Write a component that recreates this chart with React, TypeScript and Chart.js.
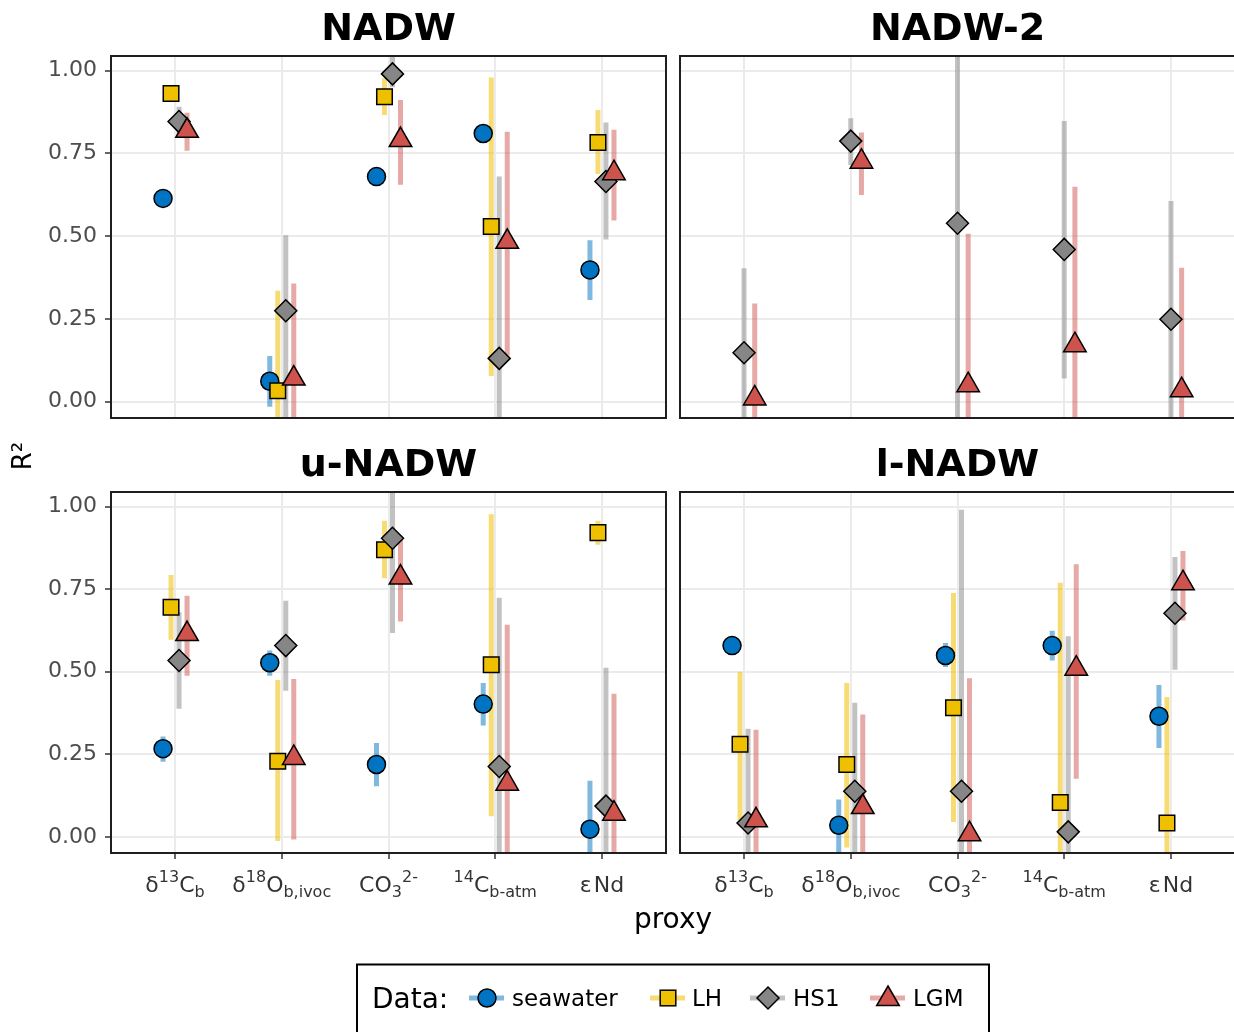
import React, { useEffect, useRef } from 'react';
import { Chart, registerables } from 'chart.js';

Chart.register(...registerables);
Chart.defaults.font.family = '"DejaVu Sans", sans-serif';

// ---------- categories & tick labels ----------
const categories = ['d13Cb', 'd18Ob,ivoc', 'CO3', '14Cb-atm', 'eNd'];
type Seg = { t: string; s?: 'sup' | 'sub' };
const tickLabels: Seg[][] = [
  [{ t: 'δ' }, { t: '13', s: 'sup' }, { t: 'C' }, { t: 'b', s: 'sub' }],
  [{ t: 'δ' }, { t: '18', s: 'sup' }, { t: 'O' }, { t: 'b,ivoc', s: 'sub' }],
  [{ t: 'CO' }, { t: '3', s: 'sub' }, { t: '2-', s: 'sup' }],
  [{ t: '14', s: 'sup' }, { t: 'C' }, { t: 'b-atm', s: 'sub' }],
  [{ t: 'ε\u200ANd' }],
];
const yTicks = [0, 0.25, 0.5, 0.75, 1];
const seriesNames = ['seawater', 'LH', 'HS1', 'LGM'];
const panelTitles = ['NADW', 'NADW-2', 'u-NADW', 'l-NADW'];

// ---------- data (R², with lower / upper range) ----------
type V = number | null;
const N: V[] = [null, null, null, null, null];

// NADW
const nadwSeawater: V[] = [0.614, 0.062, 0.68, 0.81, 0.398];
const nadwSeawaterLow: V[] = [null, -0.015, null, null, 0.307];
const nadwSeawaterHigh: V[] = [null, 0.138, null, null, 0.488];
const nadwLH: V[] = [0.931, 0.033, 0.921, 0.529, 0.783];
const nadwLHLow: V[] = [0.91, -0.2, 0.866, 0.078, 0.688];
const nadwLHHigh: V[] = [0.95, 0.335, 0.977, 0.979, 0.881];
const nadwHS1: V[] = [0.846, 0.275, 0.99, 0.131, 0.665];
const nadwHS1Low: V[] = [0.8, -0.2, 0.95, -0.2, 0.49];
const nadwHS1High: V[] = [0.891, 0.503, 1.2, 0.68, 0.843];
const nadwLGM: V[] = [0.818, 0.07, 0.79, 0.483, 0.69];
const nadwLGMLow: V[] = [0.758, -0.2, 0.655, 0.14, 0.547];
const nadwLGMHigh: V[] = [0.873, 0.357, 0.911, 0.815, 0.821];

// NADW-2
const nadw2HS1: V[] = [0.148, 0.787, 0.539, 0.46, 0.249];
const nadw2HS1Low: V[] = [-0.2, 0.715, -0.2, 0.07, -0.2];
const nadw2HS1High: V[] = [0.403, 0.856, 1.2, 0.848, 0.606];
const nadw2LGM: V[] = [0.01, 0.725, 0.05, 0.171, 0.035];
const nadw2LGMLow: V[] = [-0.2, 0.624, -0.2, -0.2, -0.2];
const nadw2LGMHigh: V[] = [0.297, 0.813, 0.507, 0.649, 0.405];

// u-NADW
const uSeawater: V[] = [0.267, 0.527, 0.219, 0.402, 0.023];
const uSeawaterLow: V[] = [0.227, 0.488, 0.153, 0.337, -0.2];
const uSeawaterHigh: V[] = [0.304, 0.564, 0.284, 0.466, 0.17];
const uLH: V[] = [0.695, 0.229, 0.869, 0.521, 0.921];
const uLHLow: V[] = [0.597, -0.013, 0.783, 0.062, 0.884];
const uLHHigh: V[] = [0.793, 0.475, 0.957, 0.977, 0.957];
const uHS1: V[] = [0.534, 0.579, 0.904, 0.213, 0.093];
const uHS1Low: V[] = [0.388, 0.442, 0.617, -0.2, -0.2];
const uHS1High: V[] = [0.68, 0.715, 1.2, 0.724, 0.512];
const uLGM: V[] = [0.614, 0.239, 0.785, 0.161, 0.07];
const uLGMLow: V[] = [0.488, -0.008, 0.652, -0.2, -0.2];
const uLGMHigh: V[] = [0.73, 0.478, 0.901, 0.642, 0.433];

// l-NADW
const lSeawater: V[] = [0.579, 0.035, 0.549, 0.579, 0.365];
const lSeawaterLow: V[] = [null, -0.2, 0.514, 0.534, 0.269];
const lSeawaterHigh: V[] = [null, 0.113, 0.587, 0.624, 0.46];
const lLH: V[] = [0.28, 0.219, 0.391, 0.104, 0.042];
const lLHLow: V[] = [0.05, -0.032, 0.045, -0.2, -0.2];
const lLHHigh: V[] = [0.5, 0.466, 0.738, 0.769, 0.423];
const lHS1: V[] = [0.042, 0.138, 0.138, 0.015, 0.677];
const lHS1Low: V[] = [-0.2, -0.2, -0.2, -0.2, 0.506];
const lHS1High: V[] = [0.327, 0.406, 0.99, 0.607, 0.847];
const lLGM: V[] = [0.05, 0.09, 0.008, 0.509, 0.768];
const lLGMLow: V[] = [-0.2, -0.2, -0.2, 0.176, 0.655];
const lLGMHigh: V[] = [0.324, 0.37, 0.48, 0.825, 0.865];

// dodge offsets (category units)
const dodgeFour = [-0.1125, -0.0375, 0.0375, 0.1125];
const dodgeNadw2 = [0, 0, 0, 0.1];

// ---------- styles ----------
const fillColors = ['#0073C2', '#EFC000', '#868686', '#CD534C'];
const barColors = [
  'rgba(0,115,194,0.5)',
  'rgba(239,192,0,0.55)',
  'rgba(134,134,134,0.5)',
  'rgba(205,83,76,0.5)',
];
const pointStyles = ['circle', 'rect', 'rectRot', 'triangle'];
const pointRadii = [9, 11, 11, 13];

type Panel = {
  title: string;
  values: V[][];
  lows: V[][];
  highs: V[][];
  offsets: number[];
  left: number;
  top: number;
  width: number;
  height: number;
  showX: boolean;
  showY: boolean;
};

const panels: Panel[] = [
  {
    title: panelTitles[0],
    values: [nadwSeawater, nadwLH, nadwHS1, nadwLGM],
    lows: [nadwSeawaterLow, nadwLHLow, nadwHS1Low, nadwLGMLow],
    highs: [nadwSeawaterHigh, nadwLHHigh, nadwHS1High, nadwLGMHigh],
    offsets: dodgeFour,
    left: 0, top: 0, width: 673, height: 430, showX: false, showY: true,
  },
  {
    title: panelTitles[1],
    values: [N, N, nadw2HS1, nadw2LGM],
    lows: [N, N, nadw2HS1Low, nadw2LGMLow],
    highs: [N, N, nadw2HS1High, nadw2LGMHigh],
    offsets: dodgeNadw2,
    left: 673, top: 0, width: 570, height: 430, showX: false, showY: false,
  },
  {
    title: panelTitles[2],
    values: [uSeawater, uLH, uHS1, uLGM],
    lows: [uSeawaterLow, uLHLow, uHS1Low, uLGMLow],
    highs: [uSeawaterHigh, uLHHigh, uHS1High, uLGMHigh],
    offsets: dodgeFour,
    left: 0, top: 435, width: 673, height: 480, showX: true, showY: true,
  },
  {
    title: panelTitles[3],
    values: [lSeawater, lLH, lHS1, lLGM],
    lows: [lSeawaterLow, lLHLow, lHS1Low, lLGMLow],
    highs: [lSeawaterHigh, lLHHigh, lHS1High, lLGMHigh],
    offsets: dodgeFour,
    left: 673, top: 435, width: 570, height: 480, showX: true, showY: false,
  },
];

const Y_MIN = -0.049;
const Y_MAX = 1.044;

function segFont(s: Seg) {
  return s.s ? '16px "DejaVu Sans"' : '22px "DejaVu Sans"';
}

const panelDecor = {
  id: 'panelDecor',
  afterDraw(chart: any, _args: any, opts: any) {
    const { ctx, chartArea: a } = chart;
    ctx.save();
    ctx.strokeStyle = '#1f1f1f';
    ctx.lineWidth = 2;
    ctx.strokeRect(a.left, a.top, a.right - a.left, a.bottom - a.top);

    ctx.fillStyle = '#000';
    ctx.font = 'bold 38px "DejaVu Sans"';
    ctx.textAlign = 'center';
    ctx.textBaseline = 'alphabetic';
    ctx.fillText(opts.title, (a.left + a.right) / 2, a.top - 16);

    if (opts.showX) {
      const xs = chart.scales.x;
      const base = a.bottom + 38.5;
      ctx.fillStyle = '#333';
      ctx.textAlign = 'left';
      tickLabels.forEach((segs, i) => {
        const cx = xs.getPixelForValue(i);
        const widths = segs.map((sg) => {
          ctx.font = segFont(sg);
          return ctx.measureText(sg.t).width;
        });
        const total = widths.reduce((p, c) => p + c, 0);
        let x = cx - total / 2;
        segs.forEach((sg, j) => {
          ctx.font = segFont(sg);
          const dy = sg.s === 'sup' ? -10 : sg.s === 'sub' ? 5 : 0;
          ctx.fillText(sg.t, x, base + dy);
          x += widths[j];
        });
      });
    }
    ctx.restore();
  },
};

function buildConfig(p: Panel): any {
  const datasets: any[] = [];
  p.values.forEach((vals, k) => {
    const off = p.offsets[k];
    const lo = p.lows[k];
    const hi = p.highs[k];
    const barData: any[] = [];
    vals.forEach((v, i) => {
      if (v == null || lo[i] == null || hi[i] == null) return;
      const x = i + off;
      barData.push({ x, y: lo[i] }, { x, y: hi[i] }, { x, y: null });
    });
    if (barData.length) {
      datasets.push({
        type: 'line',
        label: seriesNames[k] + ' range',
        data: barData,
        borderColor: barColors[k],
        backgroundColor: barColors[k],
        borderWidth: 5,
        borderCapStyle: 'butt',
        pointRadius: 0,
        pointHoverRadius: 0,
        spanGaps: false,
        tension: 0,
        showLine: true,
        clip: 0,
        order: 8 - k,
      });
    }
    const pts = vals
      .map((v, i) => (v == null ? null : { x: i + off, y: v }))
      .filter((d) => d != null);
    if (pts.length) {
      datasets.push({
        type: 'scatter',
        label: seriesNames[k],
        data: pts,
        pointStyle: pointStyles[k],
        pointRadius: pointRadii[k],
        pointHoverRadius: pointRadii[k],
        pointBackgroundColor: fillColors[k],
        pointBorderColor: '#000',
        pointBorderWidth: 1.5,
        backgroundColor: fillColors[k],
        borderColor: '#000',
        showLine: false,
        clip: false,
        order: 4 - k,
      });
    }
  });

  return {
    type: 'scatter',
    data: { datasets },
    plugins: [panelDecor],
    options: {
      animation: false,
      responsive: false,
      devicePixelRatio: 1,
      events: [],
      layout: {
        autoPadding: false,
        padding: {
          left: p.showY ? 0 : 7,
          right: p.showY ? 7 : 8,
          top: p.showX ? 57 : 56,
          bottom: p.showX ? 0 : 12,
        },
      },
      plugins: {
        legend: { display: false },
        tooltip: { enabled: false },
        title: { display: false },
        panelDecor: { title: p.title, showX: p.showX },
      },
      scales: {
        x: {
          type: 'linear',
          min: -0.6,
          max: 4.6,
          afterBuildTicks: (s: any) => {
            s.ticks = categories.map((_, i) => ({ value: i }));
          },
          afterFit: (s: any) => {
            s.height = p.showX ? 62 : 0;
            s.paddingLeft = 0;
            s.paddingRight = 0;
          },
          ticks: { display: false },
          grid: {
            color: '#EBEBEB',
            lineWidth: 2,
            drawTicks: p.showX,
            tickLength: 6,
            tickColor: '#333',
            tickWidth: 1.5,
          },
          border: { display: false },
        },
        y: {
          type: 'linear',
          min: Y_MIN,
          max: Y_MAX,
          afterBuildTicks: (s: any) => {
            s.ticks = yTicks.map((v) => ({ value: v }));
          },
          afterFit: (s: any) => {
            s.width = p.showY ? 111 : 0;
            s.paddingTop = 0;
            s.paddingBottom = 0;
          },
          ticks: {
            display: p.showY,
            font: { family: '"DejaVu Sans"', size: 22 },
            color: '#4D4D4D',
            padding: 8,
            callback: (v: any) => Number(v).toFixed(2),
          },
          grid: {
            color: '#EBEBEB',
            lineWidth: 2,
            drawTicks: p.showY,
            tickLength: 6,
            tickColor: '#333',
            tickWidth: 1.5,
          },
          border: { display: false },
        },
      },
    },
  };
}

function PanelChart({ p }: { p: Panel }) {
  const ref = useRef<HTMLCanvasElement | null>(null);
  useEffect(() => {
    if (!ref.current) return;
    const chart = new Chart(ref.current, buildConfig(p));
    return () => chart.destroy();
  }, [p]);
  return (
    <canvas
      ref={ref}
      width={p.width}
      height={p.height}
      style={{ position: 'absolute', left: p.left, top: p.top, width: p.width, height: p.height }}
    />
  );
}

function LegendKey({ k, cx, cy }: { k: number; cx: number; cy: number }) {
  const fill = fillColors[k];
  let shape: any = null;
  if (k === 0) shape = <circle cx={cx} cy={cy} r={9} fill={fill} stroke="#000" strokeWidth={1.5} />;
  if (k === 1) shape = <rect x={cx - 7.8} y={cy - 7.8} width={15.6} height={15.6} fill={fill} stroke="#000" strokeWidth={1.5} />;
  if (k === 2)
    shape = (
      <polygon
        points={`${cx},${cy - 11} ${cx + 11},${cy} ${cx},${cy + 11} ${cx - 11},${cy}`}
        fill={fill}
        stroke="#000"
        strokeWidth={1.5}
      />
    );
  if (k === 3)
    shape = (
      <polygon
        points={`${cx},${cy - 12} ${cx + 11.3},${cy + 7.5} ${cx - 11.3},${cy + 7.5}`}
        fill={fill}
        stroke="#000"
        strokeWidth={1.5}
      />
    );
  return (
    <g>
      <line x1={cx - 18} x2={cx + 17} y1={cy} y2={cy} stroke={barColors[k]} strokeWidth={5} />
      {shape}
    </g>
  );
}

const legendItems = [
  { k: 0, key: 487, text: 512 },
  { k: 1, key: 668, text: 692 },
  { k: 2, key: 768, text: 793 },
  { k: 3, key: 888, text: 913 },
];

export default function App() {
  return (
    <div
      style={{
        position: 'absolute',
        left: 0,
        top: 0,
        width: 1234,
        height: 1032,
        overflow: 'hidden',
        background: '#fff',
      }}
    >
      {panels.map((p) => (
        <PanelChart key={p.title} p={p} />
      ))}
      <svg
        width={1234}
        height={1032}
        style={{ position: 'absolute', left: 0, top: 0, pointerEvents: 'none' }}
        fontFamily="DejaVu Sans"
      >
        <text x={0} y={0} fontSize={26} fill="#000" textAnchor="middle" transform="translate(31,456) rotate(-90)">
          R²
        </text>
        <text x={673} y={928} fontSize={28} fill="#000" textAnchor="middle">
          proxy
        </text>
        <rect x={357} y={964.5} width={632} height={100} fill="#fff" stroke="#000" strokeWidth={2} />
        <text x={372} y={1008} fontSize={28} fill="#000">
          Data:
        </text>
        {legendItems.map((it) => (
          <g key={it.k}>
            <LegendKey k={it.k} cx={it.key} cy={998} />
            <text x={it.text} y={1006} fontSize={23} fill="#000">
              {seriesNames[it.k]}
            </text>
          </g>
        ))}
      </svg>
    </div>
  );
}
